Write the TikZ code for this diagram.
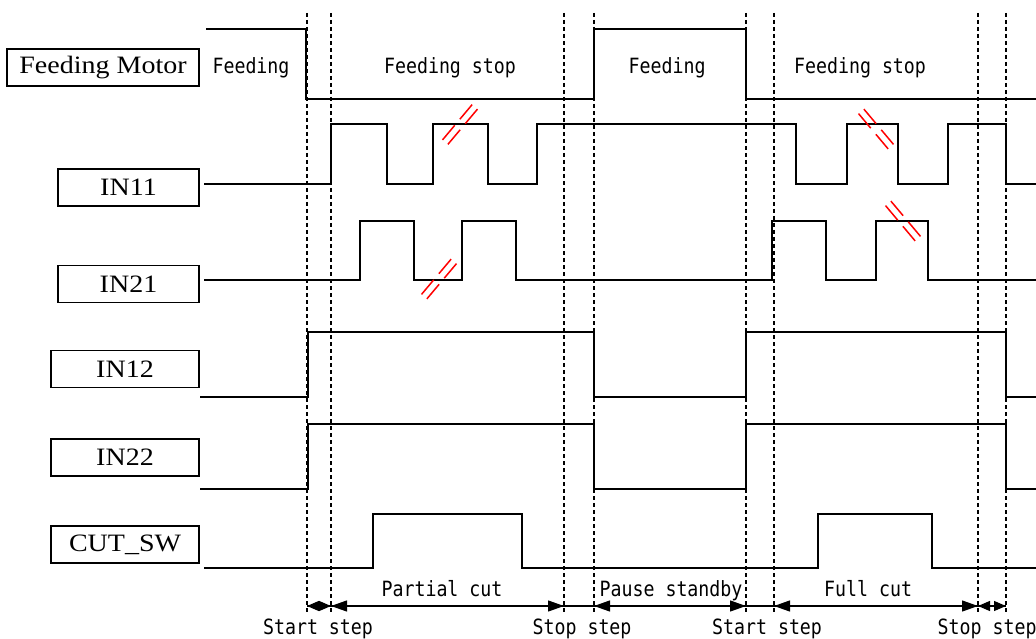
\documentclass[tikz,border=0pt]{standalone}
\usepackage{fontspec}
\usepackage{graphicx}
\usetikzlibrary{arrows.meta}
\newfontfamily\gothic{DejaVu Sans Mono}
\newfontfamily\labelserif{Liberation Serif}
% serif signal names, slightly widened
\newcommand{\lbltext}[1]{\scalebox{1.12}[1]{\fontsize{25}{25}\selectfont\labelserif #1}}
% narrow monospaced captions
\newcommand{\captext}[1]{\scalebox{0.87}[1]{\fontsize{21}{21}\selectfont\gothic #1}}
% red break mark: two parallel interrupted strokes through (x,y) at a given angle
\newcommand{\breakmark}[3]{%
  \begin{scope}[shift={(#1,#2)}, rotate=#3]
    \foreach \o in {-3.5,3.5}{%
      \draw[brk] (-23,\o) -- (-4,\o);
      \draw[brk] (4,\o) -- (23,\o);
    }
  \end{scope}}

\begin{document}
\begin{tikzpicture}[x=1pt,y=-1pt,
  sig/.style={line width=1.6pt, line join=miter},
  guide/.style={line width=1.4pt, dash pattern=on 4pt off 3pt},
  lblbox/.style={draw, line width=1.3pt, inner sep=0pt, minimum height=37pt},
  caption/.style={inner sep=0pt, anchor=base},
  cutspan/.style={line width=1.2pt,
    {Triangle[length=16pt,width=11pt]}-{Triangle[length=16pt,width=11pt]}},
  stepspan/.style={line width=1.2pt,
    {Triangle[length=12pt,width=10pt]}-{Triangle[length=12pt,width=10pt]}},
  brk/.style={red, line width=1.5pt},
]
\useasboundingbox (0,0) rectangle (1036,639);

% step boundaries
\foreach \gx in {307,331,564,594,746,774,978,1006}{
  \coordinate (g\gx t) at (\gx,13);
  \coordinate (g\gx b) at (\gx,612);
  \draw[guide] (g\gx t) -- (g\gx b);
}

% signal names
\node[lblbox, minimum width=192pt] (fm)    at (103,67.5)  {\lbltext{Feeding Motor}};
\node[lblbox, minimum width=141pt] (in11)  at (128.5,187.5) {\lbltext{IN11}};
\node[lblbox, minimum width=141pt] (in21)  at (128.5,284) {\lbltext{IN21}};
\node[lblbox, minimum width=148pt] (in12)  at (125,369)   {\lbltext{IN12}};
\node[lblbox, minimum width=148pt] (in22)  at (125,457.5) {\lbltext{IN22}};
\node[lblbox, minimum width=148pt] (cutsw) at (125,544.5) {\lbltext{CUT\_SW}};

% waveforms
\draw[sig] (206,29) -| (306,99) -| (594,29) -| (746,99) -- (1036,99);
\draw[sig] (204,184) -| (331,124) -| (387,184) -| (433,124) -| (488,184)
  -| (537,124) -| (796,184) -| (847,124) -| (898,184) -| (948,124)
  -| (1006,184) -- (1036,184);
\draw[sig] (204,280) -| (360,221) -| (414,280) -| (462,221) -| (516,280)
  -| (772,221) -| (826,280) -| (876,221) -| (928,280) -- (1036,280);
\draw[sig] (200,397) -| (308,332) -| (594,397) -| (746,332) -| (1006,397) -- (1036,397);
\draw[sig] (200,489) -| (308,424) -| (594,489) -| (746,424) -| (1006,489) -- (1036,489);
\draw[sig] (204,568) -| (373,514) -| (522,568) -| (818,514) -| (932,568) -- (1036,568);

% break marks
\breakmark{460}{124.5}{50}
\breakmark{439}{279}{50}
\breakmark{876}{129}{-50}
\breakmark{903}{221}{-50}

% motor state captions
\node[caption] (cfeed1) at (251,74) {\captext{Feeding}};
\node[caption] (cstop1) at (450,74) {\captext{Feeding stop}};
\node[caption] (cfeed2) at (667,74) {\captext{Feeding}};
\node[caption] (cstop2) at (860,74) {\captext{Feeding stop}};

% step spans
\coordinate (a307) at (307,606);
\coordinate (a331) at (331,606);
\coordinate (a564) at (564,606);
\coordinate (a594) at (594,606);
\coordinate (a746) at (746,606);
\coordinate (a774) at (774,606);
\coordinate (a978) at (978,606);
\coordinate (a1006) at (1006,606);
\draw[line width=1.2pt] (a307) -- (a1006);
\draw[stepspan] (a307) -- (a331);
\draw[cutspan] (a331) -- (a564);
\draw[cutspan] (a594) -- (a746);
\draw[cutspan] (a774) -- (a978);
\draw[stepspan] (a978) -- (a1006);

\node[caption] (cpart)  at (442,596) {\captext{Partial cut}};
\node[caption] (cpause) at (671,596) {\captext{Pause standby}};
\node[caption] (cfull)  at (868,596) {\captext{Full cut}};
\node[caption] (sstart1) at (318,634) {\captext{Start step}};
\node[caption] (sstop1)  at (582,634) {\captext{Stop step}};
\node[caption] (sstart2) at (767,634) {\captext{Start step}};
\node[caption] (sstop2)  at (987,634) {\captext{Stop step}};
\end{tikzpicture}
\end{document}
